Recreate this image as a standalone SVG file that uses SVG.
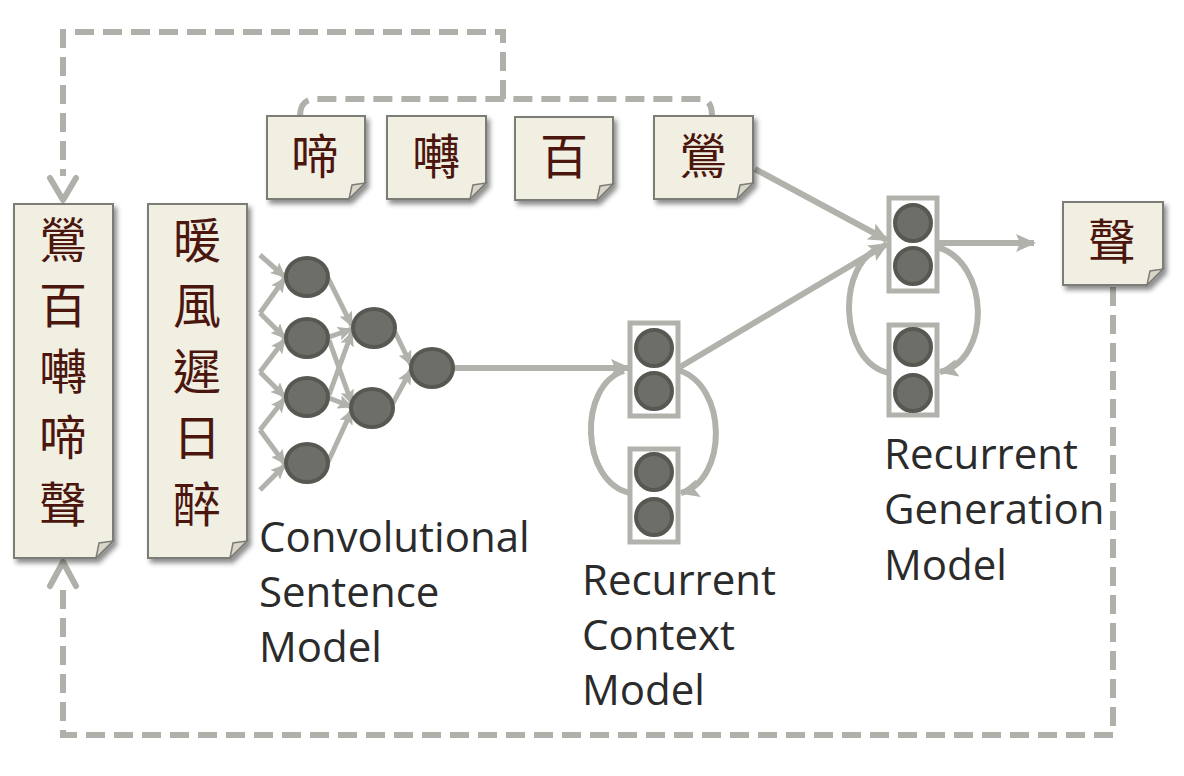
<svg xmlns="http://www.w3.org/2000/svg" width="1184" height="776" viewBox="0 0 1184 776">
<defs>
<filter id="sh" x="-20%" y="-20%" width="150%" height="150%">
<feDropShadow dx="3" dy="4" stdDeviation="2.5" flood-color="#000" flood-opacity="0.45"/>
</filter>
<marker id="ah" markerWidth="20" markerHeight="18" refX="18" refY="9" orient="auto" markerUnits="userSpaceOnUse">
<path d="M0,0 L20,9 L0,18 L4,9 Z" fill="#b2b2ac"/>
</marker>
<marker id="as" markerWidth="15" markerHeight="14" refX="14" refY="7" orient="auto" markerUnits="userSpaceOnUse">
<path d="M0,0 L15,7 L0,14 L3,7 Z" fill="#b2b2ac"/>
</marker>
</defs>
<style>
.note{fill:#f1eee2;stroke:#7d7d78;stroke-width:2;}
.fold{fill:#d9d6c9;stroke:#7d7d78;stroke-width:1.5;}
.cjk{font-family:"Noto Sans CJK TC","Noto Sans CJK SC",sans-serif;font-size:48px;fill:#4a160e;text-anchor:middle;}
.lbl{font-family:"Open Sans","Noto Sans",sans-serif;font-size:42px;fill:#2b2b2b;}
.dash{fill:none;stroke:#b0b0aa;stroke-width:6;stroke-dasharray:19 9;}
.chev{fill:none;stroke:#b0b0aa;stroke-width:6;stroke-linecap:round;stroke-linejoin:round;}
.con{fill:none;stroke:#b2b2ac;stroke-width:6;}
.cs{fill:none;stroke:#b2b2ac;stroke-width:5;}
.node{fill:#6e6e69;stroke:#585853;stroke-width:4;}
.box{fill:#fff;stroke:#b2b2ac;stroke-width:5;}
</style>

<g id="connectors">
<path class="dash" d="M503,99 V32 H63 V176"/>
<polyline class="chev" points="50,178 63,200 76,178"/>
<path class="dash" d="M300,116 Q300,99 316,99 H700 Q712,99 712,116"/>
<path class="dash" d="M1113,287 V735 H63 V586"/>
<polyline class="chev" points="50,586 63,562 76,586"/>
<line class="cs" x1="260" y1="255" x2="285" y2="277" marker-end="url(#as)"/>
<line class="cs" x1="260" y1="313" x2="285" y2="278" marker-end="url(#as)"/>
<line class="cs" x1="260" y1="313" x2="285" y2="338" marker-end="url(#as)"/>
<line class="cs" x1="260" y1="372" x2="285" y2="339" marker-end="url(#as)"/>
<line class="cs" x1="260" y1="372" x2="285" y2="397" marker-end="url(#as)"/>
<line class="cs" x1="260" y1="430" x2="285" y2="398" marker-end="url(#as)"/>
<line class="cs" x1="260" y1="430" x2="285" y2="464" marker-end="url(#as)"/>
<line class="cs" x1="260" y1="490" x2="285" y2="465" marker-end="url(#as)"/>
<line class="cs" x1="328" y1="278" x2="352" y2="326" marker-end="url(#as)"/>
<line class="cs" x1="329" y1="337" x2="352" y2="329" marker-end="url(#as)"/>
<line class="cs" x1="329" y1="340" x2="352" y2="404" marker-end="url(#as)"/>
<line class="cs" x1="329" y1="395" x2="352" y2="332" marker-end="url(#as)"/>
<line class="cs" x1="329" y1="398" x2="352" y2="407" marker-end="url(#as)"/>
<line class="cs" x1="328" y1="462" x2="352" y2="410" marker-end="url(#as)"/>
<line class="cs" x1="395" y1="332" x2="411" y2="365" marker-end="url(#as)"/>
<line class="cs" x1="393" y1="403" x2="411" y2="370" marker-end="url(#as)"/>
<line class="con" x1="454" y1="368" x2="629" y2="368" marker-end="url(#ah)"/>
<path class="con" d="M678,370 C728,385 728,480 681,493" marker-end="url(#ah)"/>
<path class="con" d="M630,493 C580,482 578,385 624,371"/>
<line class="con" x1="680" y1="367" x2="887" y2="244" marker-end="url(#ah)"/>
<line class="con" x1="755" y1="169" x2="887" y2="240" marker-end="url(#ah)"/>
<path class="con" d="M937,247 C990,262 992,360 940,372" marker-end="url(#ah)"/>
<path class="con" d="M889,373 C838,362 836,262 882,247"/>
<line class="con" x1="937" y1="243" x2="1034" y2="243" marker-end="url(#ah)"/>
</g>

<g id="note-left1" filter="url(#sh)">
<path class="note" d="M14,204 H113 V541 L96,558 H14 Z"/>
<path class="fold" d="M113,541 L96,558 L99,543 Z"/>
</g>
<g id="note-left1-text">
<text class="cjk" x="63" y="258">鶯</text>
<text class="cjk" x="63" y="323">百</text>
<text class="cjk" x="63" y="389">囀</text>
<text class="cjk" x="63" y="455">啼</text>
<text class="cjk" x="63" y="522">聲</text>
</g>

<g id="note-left2" filter="url(#sh)">
<path class="note" d="M148,204 H247 V541 L230,558 H148 Z"/>
<path class="fold" d="M247,541 L230,558 L233,543 Z"/>
</g>
<g id="note-left2-text">
<text class="cjk" x="197" y="258">暖</text>
<text class="cjk" x="197" y="323">風</text>
<text class="cjk" x="197" y="389">遲</text>
<text class="cjk" x="197" y="455">日</text>
<text class="cjk" x="197" y="522">醉</text>
</g>

<g id="note-ti">
<path class="note" d="M267,116 H365 V183 L349,199 H267 Z" filter="url(#sh)"/>
<path class="fold" d="M365,183 L349,199 L352,185 Z"/>
<text class="cjk" x="315" y="174">啼</text>
</g>
<g id="note-zhuan">
<path class="note" d="M387,116 H486 V183 L470,199 H387 Z" filter="url(#sh)"/>
<path class="fold" d="M486,183 L470,199 L473,185 Z"/>
<text class="cjk" x="436" y="174">囀</text>
</g>
<g id="note-bai">
<path class="note" d="M515,117 H613 V184 L597,200 H515 Z" filter="url(#sh)"/>
<path class="fold" d="M613,184 L597,200 L600,186 Z"/>
<text class="cjk" x="564" y="174">百</text>
</g>
<g id="note-ying">
<path class="note" d="M654,116 H753 V183 L737,199 H654 Z" filter="url(#sh)"/>
<path class="fold" d="M753,183 L737,199 L740,185 Z"/>
<text class="cjk" x="703" y="174">鶯</text>
</g>
<g id="note-sheng">
<path class="note" d="M1063,202 H1163 V269 L1147,285 H1063 Z" filter="url(#sh)"/>
<path class="fold" d="M1163,269 L1147,285 L1150,271 Z"/>
<text class="cjk" x="1112" y="259">聲</text>
</g>

<g id="cnn">
<ellipse class="node" cx="307" cy="277" rx="21" ry="19"/>
<ellipse class="node" cx="307" cy="338" rx="21" ry="19"/>
<ellipse class="node" cx="307" cy="397" rx="21" ry="19"/>
<ellipse class="node" cx="307" cy="463" rx="21" ry="19"/>
<ellipse class="node" cx="374" cy="328" rx="21" ry="19"/>
<ellipse class="node" cx="372" cy="408" rx="21" ry="19"/>
<ellipse class="node" cx="432" cy="368" rx="21" ry="19"/>
</g>

<g id="context-top">
<rect class="box" x="630" y="323" width="48" height="93"/>
<ellipse class="node" cx="654" cy="348" rx="18" ry="18"/>
<ellipse class="node" cx="654" cy="391" rx="18" ry="18"/>
</g>
<g id="context-bottom">
<rect class="box" x="630" y="449" width="48" height="93"/>
<ellipse class="node" cx="654" cy="472" rx="18" ry="18"/>
<ellipse class="node" cx="654" cy="517" rx="18" ry="18"/>
</g>

<g id="gen-top">
<rect class="box" x="889" y="198" width="48" height="93"/>
<ellipse class="node" cx="913" cy="223" rx="18" ry="18"/>
<ellipse class="node" cx="913" cy="266" rx="18" ry="18"/>
</g>
<g id="gen-bottom">
<rect class="box" x="889" y="325" width="48" height="90"/>
<ellipse class="node" cx="913" cy="347" rx="18" ry="18"/>
<ellipse class="node" cx="913" cy="393" rx="18" ry="18"/>
</g>

<g id="label-cnn">
<text class="lbl" x="259" y="552">Convolutional</text>
<text class="lbl" x="259" y="607">Sentence</text>
<text class="lbl" x="259" y="662">Model</text>
</g>
<g id="label-context">
<text class="lbl" x="582" y="595">Recurrent</text>
<text class="lbl" x="582" y="650">Context</text>
<text class="lbl" x="582" y="705">Model</text>
</g>
<g id="label-gen">
<text class="lbl" x="884" y="469">Recurrent</text>
<text class="lbl" x="884" y="524">Generation</text>
<text class="lbl" x="884" y="580">Model</text>
</g>
</svg>
